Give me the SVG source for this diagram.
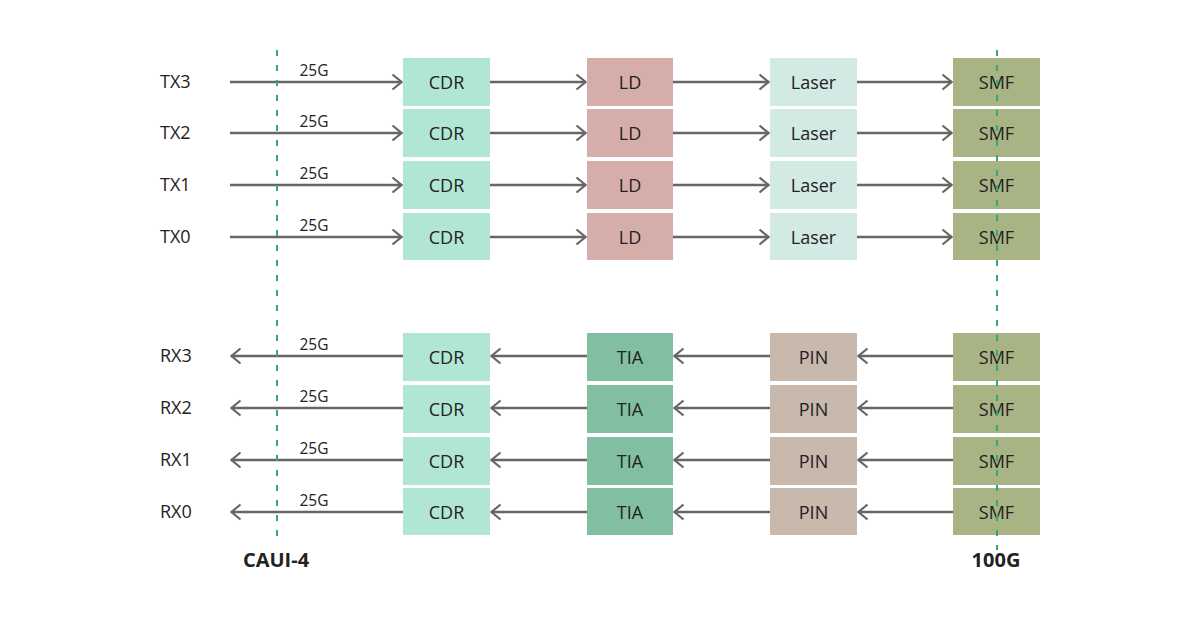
<svg xmlns="http://www.w3.org/2000/svg" width="1200" height="618" viewBox="0 0 1200 618">
<defs>
<marker id="ah" viewBox="0 0 12 18" refX="11" refY="9" markerWidth="12" markerHeight="18" markerUnits="userSpaceOnUse" orient="auto">
<path d="M1.5,1.5 L10.5,9 L1.5,16.5" fill="none" stroke="#666" stroke-width="2.2"/>
</marker>
<style>
text{font-family:"Open Sans","Noto Sans",sans-serif;fill:#222}
.lbl{font-size:18px;text-anchor:middle;dominant-baseline:central}
.side{font-size:18px;dominant-baseline:central}
.g{font-size:15.5px;text-anchor:middle}
.bold{font-size:20px;font-weight:bold;text-anchor:middle}
.ln{stroke:#666;stroke-width:2.4;fill:none;marker-end:url(#ah)}
.cdr{fill:#b0e6d3}.ld{fill:#d5aea9}.laser{fill:#d3e9e3}.smf{fill:#a9b485}.tia{fill:#82bfa2}.pin{fill:#c9b8ac}
.dash{stroke:#3aa57a;stroke-width:2;stroke-dasharray:6 9;fill:none}
</style>
</defs>
<rect width="1200" height="618" fill="#fff"/>
<g id="connectors">
<path class="ln" d="M230,82 H402"/><path class="ln" d="M490,82 H586"/><path class="ln" d="M673,82 H769"/><path class="ln" d="M857,82 H952"/>
<path class="ln" d="M230,133 H402"/><path class="ln" d="M490,133 H586"/><path class="ln" d="M673,133 H769"/><path class="ln" d="M857,133 H952"/>
<path class="ln" d="M230,185 H402"/><path class="ln" d="M490,185 H586"/><path class="ln" d="M673,185 H769"/><path class="ln" d="M857,185 H952"/>
<path class="ln" d="M230,237 H402"/><path class="ln" d="M490,237 H586"/><path class="ln" d="M673,237 H769"/><path class="ln" d="M857,237 H952"/>
<path class="ln" d="M403,356 H231"/><path class="ln" d="M587,356 H491"/><path class="ln" d="M770,356 H674"/><path class="ln" d="M953,356 H858"/>
<path class="ln" d="M403,408 H231"/><path class="ln" d="M587,408 H491"/><path class="ln" d="M770,408 H674"/><path class="ln" d="M953,408 H858"/>
<path class="ln" d="M403,460 H231"/><path class="ln" d="M587,460 H491"/><path class="ln" d="M770,460 H674"/><path class="ln" d="M953,460 H858"/>
<path class="ln" d="M403,512 H231"/><path class="ln" d="M587,512 H491"/><path class="ln" d="M770,512 H674"/><path class="ln" d="M953,512 H858"/>
</g>
<g id="labels">
<text class="side" x="160" y="81">TX3</text><text class="side" x="160" y="132">TX2</text><text class="side" x="160" y="184">TX1</text><text class="side" x="160" y="236">TX0</text>
<text class="side" x="160" y="355">RX3</text><text class="side" x="160" y="407">RX2</text><text class="side" x="160" y="459">RX1</text><text class="side" x="160" y="511">RX0</text>
<text class="g" x="314" y="76">25G</text><text class="g" x="314" y="127">25G</text><text class="g" x="314" y="179">25G</text><text class="g" x="314" y="231">25G</text>
<text class="g" x="314" y="350">25G</text><text class="g" x="314" y="402">25G</text><text class="g" x="314" y="454">25G</text><text class="g" x="314" y="506">25G</text>
</g>
<g id="tx3"><rect class="cdr" x="403" y="58" width="87" height="48"/><text class="lbl" x="446.5" y="82">CDR</text><rect class="ld" x="587" y="58" width="86" height="48"/><text class="lbl" x="630" y="82">LD</text><rect class="laser" x="770" y="58" width="87" height="48"/><text class="lbl" x="813.5" y="82">Laser</text><rect class="smf" x="953" y="58" width="87" height="48"/><text class="lbl" x="996.5" y="82">SMF</text></g>
<g id="tx2"><rect class="cdr" x="403" y="109" width="87" height="48"/><text class="lbl" x="446.5" y="133">CDR</text><rect class="ld" x="587" y="109" width="86" height="48"/><text class="lbl" x="630" y="133">LD</text><rect class="laser" x="770" y="109" width="87" height="48"/><text class="lbl" x="813.5" y="133">Laser</text><rect class="smf" x="953" y="109" width="87" height="48"/><text class="lbl" x="996.5" y="133">SMF</text></g>
<g id="tx1"><rect class="cdr" x="403" y="161" width="87" height="48"/><text class="lbl" x="446.5" y="185">CDR</text><rect class="ld" x="587" y="161" width="86" height="48"/><text class="lbl" x="630" y="185">LD</text><rect class="laser" x="770" y="161" width="87" height="48"/><text class="lbl" x="813.5" y="185">Laser</text><rect class="smf" x="953" y="161" width="87" height="48"/><text class="lbl" x="996.5" y="185">SMF</text></g>
<g id="tx0"><rect class="cdr" x="403" y="213" width="87" height="47"/><text class="lbl" x="446.5" y="237">CDR</text><rect class="ld" x="587" y="213" width="86" height="47"/><text class="lbl" x="630" y="237">LD</text><rect class="laser" x="770" y="213" width="87" height="47"/><text class="lbl" x="813.5" y="237">Laser</text><rect class="smf" x="953" y="213" width="87" height="47"/><text class="lbl" x="996.5" y="237">SMF</text></g>
<g id="rx3"><rect class="cdr" x="403" y="333" width="87" height="48"/><text class="lbl" x="446.5" y="357">CDR</text><rect class="tia" x="587" y="333" width="86" height="48"/><text class="lbl" x="630" y="357">TIA</text><rect class="pin" x="770" y="333" width="87" height="48"/><text class="lbl" x="813.5" y="357">PIN</text><rect class="smf" x="953" y="333" width="87" height="48"/><text class="lbl" x="996.5" y="357">SMF</text></g>
<g id="rx2"><rect class="cdr" x="403" y="385" width="87" height="48"/><text class="lbl" x="446.5" y="409">CDR</text><rect class="tia" x="587" y="385" width="86" height="48"/><text class="lbl" x="630" y="409">TIA</text><rect class="pin" x="770" y="385" width="87" height="48"/><text class="lbl" x="813.5" y="409">PIN</text><rect class="smf" x="953" y="385" width="87" height="48"/><text class="lbl" x="996.5" y="409">SMF</text></g>
<g id="rx1"><rect class="cdr" x="403" y="437" width="87" height="48"/><text class="lbl" x="446.5" y="461">CDR</text><rect class="tia" x="587" y="437" width="86" height="48"/><text class="lbl" x="630" y="461">TIA</text><rect class="pin" x="770" y="437" width="87" height="48"/><text class="lbl" x="813.5" y="461">PIN</text><rect class="smf" x="953" y="437" width="87" height="48"/><text class="lbl" x="996.5" y="461">SMF</text></g>
<g id="rx0"><rect class="cdr" x="403" y="488" width="87" height="47"/><text class="lbl" x="446.5" y="512">CDR</text><rect class="tia" x="587" y="488" width="86" height="47"/><text class="lbl" x="630" y="512">TIA</text><rect class="pin" x="770" y="488" width="87" height="47"/><text class="lbl" x="813.5" y="512">PIN</text><rect class="smf" x="953" y="488" width="87" height="47"/><text class="lbl" x="996.5" y="512">SMF</text></g>
<g id="boundaries">
<path class="dash" d="M277,50 V545"/>
<path class="dash" d="M997,50 V550"/>
<text class="bold" x="276" y="567">CAUI-4</text>
<text class="bold" x="996" y="567">100G</text>
</g>
</svg>
